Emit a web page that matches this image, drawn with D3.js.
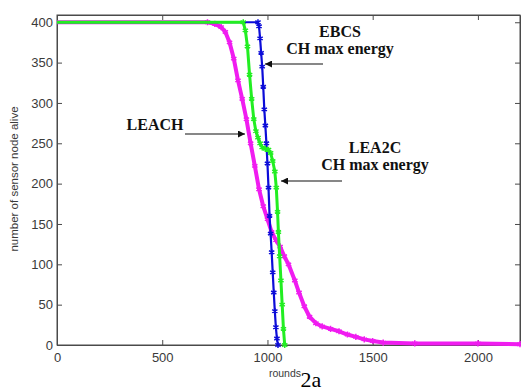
<!DOCTYPE html>
<html>
<head>
<meta charset="utf-8">
<script src="https://cdn.jsdelivr.net/npm/d3@7"></script>
<style>
  body { margin: 0; background: #fff; }
  svg { display: block; }
</style>
</head>
<body>
<div id="chart"></div>
<script>
// values (rounds vs. number of nodes alive)
const ebcsRounds = [0, 955, 960, 965, 970, 975, 980, 985, 990, 995, 1000, 1005, 1010, 1015, 1020, 1025, 1030, 1035, 1040, 1045, 1050];
const ebcsAlive  = [400, 400, 395, 380, 362, 345, 320, 292, 272, 250, 225, 195, 160, 138, 115, 90, 65, 42, 22, 8, 0];

const lea2cRounds = [0, 885, 895, 905, 915, 925, 935, 945, 955, 965, 975, 990, 1005, 1015, 1025, 1035, 1042, 1048, 1052, 1058, 1064, 1070, 1076, 1082];
const lea2cAlive  = [400, 400, 390, 370, 335, 305, 280, 265, 257, 250, 245, 243, 242, 238, 228, 215, 195, 165, 140, 110, 80, 50, 20, 0];

const leachRounds = [0, 715, 750, 780, 800, 820, 840, 860, 880, 900, 920, 940, 960, 980, 1000, 1020, 1040, 1060, 1080, 1100, 1130, 1150, 1175, 1200, 1230, 1260, 1300, 1340, 1380, 1420, 1460, 1500, 1550, 1700, 2000, 2200];
const leachAlive  = [400, 400, 398, 394, 388, 375, 355, 328, 305, 280, 250, 222, 193, 172, 156, 140, 130, 122, 110, 100, 80, 65, 48, 35, 27, 23, 20, 17, 13, 10, 7, 5, 3, 2, 2, 1];

const xTicks = [0, 500, 1000, 1500, 2000];
const yTicks = [0, 50, 100, 150, 200, 250, 300, 350, 400];

const series = [
  { name: 'LEACH', rounds: leachRounds, alive: leachAlive, color: '#f01cf0', width: 4 },
  { name: 'EBCS', rounds: ebcsRounds, alive: ebcsAlive, color: '#0c0cd8', width: 2.2 },
  { name: 'LEA2C', rounds: lea2cRounds, alive: lea2cAlive, color: '#22ee22', width: 3 }
];

const W = 521, H = 392;
const plotLeft = 57, plotRight = 520, plotTop = 15, plotBottom = 345;

const svg = d3.select('#chart').append('svg')
  .attr('width', W)
  .attr('height', H);

const x = d3.scaleLinear().domain([0, 2200]).range([plotLeft, plotRight]);
const y = d3.scaleLinear().domain([0, 409]).range([plotBottom, plotTop]);

const axisColor = '#4a4a4a';
const tickFont = "'Liberation Sans', Arial, sans-serif";
const serifFont = "'Liberation Serif', 'Times New Roman', Times, serif";

// frame (box)
svg.append('rect')
  .attr('x', plotLeft).attr('y', plotTop)
  .attr('width', plotRight - plotLeft).attr('height', plotBottom - plotTop)
  .attr('fill', 'none')
  .attr('stroke', axisColor)
  .attr('stroke-width', 1);

// axes with inward ticks
const gx = svg.append('g').attr('transform', `translate(0,${plotBottom})`)
  .call(d3.axisBottom(x).tickValues(xTicks).tickFormat(d3.format('d')).tickSizeInner(-5).tickSizeOuter(0).tickPadding(8));
const gxTop = svg.append('g').attr('transform', `translate(0,${plotTop})`)
  .call(d3.axisTop(x).tickValues(xTicks).tickSizeInner(-5).tickSizeOuter(0).tickFormat(''));
const gy = svg.append('g').attr('transform', `translate(${plotLeft},0)`)
  .call(d3.axisLeft(y).tickValues(yTicks).tickFormat(d3.format('d')).tickSizeInner(-5).tickSizeOuter(0).tickPadding(4));
const gyRight = svg.append('g').attr('transform', `translate(${plotRight},0)`)
  .call(d3.axisRight(y).tickValues(yTicks).tickSizeInner(-5).tickSizeOuter(0).tickFormat(''));

[gx, gxTop, gy, gyRight].forEach(g => {
  g.select('.domain').attr('stroke', axisColor);
  g.selectAll('.tick line').attr('stroke', axisColor);
  g.selectAll('.tick text')
    .attr('fill', '#3a3a3a')
    .style('font-family', tickFont)
    .style('font-size', '13px');
});

// data series: dense markers drawn as a thick line plus asterisk marks
const line = d3.line()
  .x(d => x(d[0]))
  .y(d => y(d[1]));

const markerType = d3.symbolAsterisk || d3.symbolCross;
const marker = d3.symbol().type(markerType).size(26);

series.forEach(s => {
  const pts = s.rounds.map((r, i) => [r, s.alive[i]]);
  svg.append('path')
    .datum(pts)
    .attr('fill', 'none')
    .attr('stroke', s.color)
    .attr('stroke-width', s.width)
    .attr('stroke-linejoin', 'round')
    .attr('d', line);

  svg.append('g').selectAll('path')
    .data(pts.slice(1))
    .enter().append('path')
    .attr('transform', d => `translate(${x(d[0])},${y(d[1])})`)
    .attr('d', marker)
    .attr('fill', d3.symbolAsterisk ? 'none' : s.color)
    .attr('stroke', s.color)
    .attr('stroke-width', 1.5);
});

// axis labels
svg.append('text')
  .attr('transform', `translate(18,179) rotate(-90)`)
  .attr('text-anchor', 'middle')
  .attr('fill', '#3a3a3a')
  .style('font-family', tickFont)
  .style('font-size', '11.5px')
  .text('number of sensor node alive');

svg.append('text')
  .attr('x', 285).attr('y', 377)
  .attr('text-anchor', 'middle')
  .attr('fill', '#3a3a3a')
  .style('font-family', tickFont)
  .style('font-size', '10.5px')
  .text('rounds');

svg.append('text')
  .attr('x', 311).attr('y', 387)
  .attr('text-anchor', 'middle')
  .attr('fill', '#000')
  .style('font-family', serifFont)
  .style('font-size', '22px')
  .text('2a');

// annotations with arrows
svg.append('defs').append('marker')
  .attr('id', 'arrow')
  .attr('viewBox', '0 0 10 10')
  .attr('refX', 10).attr('refY', 5)
  .attr('markerWidth', 7).attr('markerHeight', 7)
  .attr('markerUnits', 'userSpaceOnUse')
  .attr('orient', 'auto')
  .append('path')
  .attr('d', 'M0,0 L10,5 L0,10 z')
  .attr('fill', '#111');

const notes = [
  { lines: ['EBCS', 'CH max energy'], cx: 340, y0: 37, arrow: [323, 64, 265, 64] },
  { lines: ['LEA2C', 'CH max energy'], cx: 375, y0: 153, arrow: [342, 181, 281, 181] },
  { lines: ['LEACH'], cx: 155, y0: 130, arrow: [185, 134, 245, 134] }
];

notes.forEach(n => {
  n.lines.forEach((t, i) => {
    svg.append('text')
      .attr('x', n.cx).attr('y', n.y0 + i * 17)
      .attr('text-anchor', 'middle')
      .attr('fill', '#111')
      .style('font-family', serifFont)
      .style('font-weight', 'bold')
      .style('font-size', '16px')
      .text(t);
  });
  svg.append('line')
    .attr('x1', n.arrow[0]).attr('y1', n.arrow[1])
    .attr('x2', n.arrow[2]).attr('y2', n.arrow[3])
    .attr('stroke', '#111')
    .attr('stroke-width', 1.2)
    .attr('marker-end', 'url(#arrow)');
});
</script>
</body>
</html>
